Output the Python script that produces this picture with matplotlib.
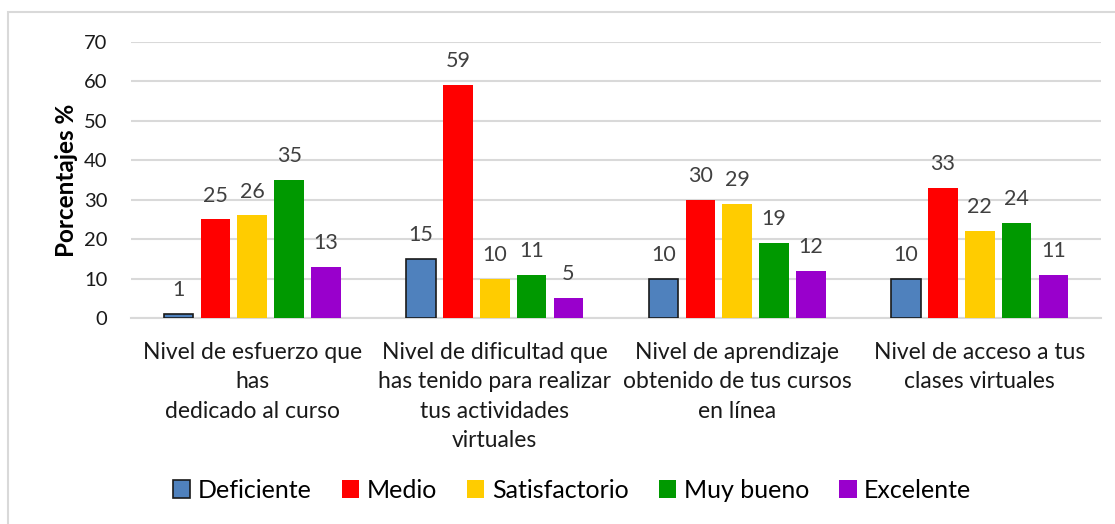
import matplotlib
matplotlib.use("Agg")
import matplotlib.pyplot as plt
from matplotlib.patches import Rectangle
import numpy as np

categories = [
    "Nivel de esfuerzo que\nhas\ndedicado al curso",
    "Nivel de dificultad que\nhas tenido para realizar\ntus actividades\nvirtuales",
    "Nivel de aprendizaje\nobtenido de tus cursos\nen línea",
    "Nivel de acceso a tus\nclases virtuales",
]
series_names = ["Deficiente", "Medio", "Satisfactorio", "Muy bueno", "Excelente"]
deficiente = [1, 15, 10, 10]
medio = [25, 59, 30, 33]
satisfactorio = [26, 10, 29, 22]
muy_bueno = [35, 11, 19, 24]
excelente = [13, 5, 12, 11]
yticks = [0, 10, 20, 30, 40, 50, 60, 70]

values = [deficiente, medio, satisfactorio, muy_bueno, excelente]
colors = ["#4F81BD", "#FF0000", "#FFCC00", "#009900", "#9900CC"]

plt.rcParams['font.family'] = ['Lato', 'DejaVu Sans']

fig = plt.figure(figsize=(11.15, 5.24), dpi=100)
fig.patches.append(Rectangle((8/1115, -0.01), 1.02, 1 - 12/524 + 0.01,
                             transform=fig.transFigure, fill=False,
                             edgecolor="#d9d9d9", linewidth=1.5))
ax = fig.add_axes([131/1115, 1 - 318/524, 970/1115, 276/524])

x = np.arange(len(categories))
pitch = 0.152
width = 0.122
for i, (name, vals, c) in enumerate(zip(series_names, values, colors)):
    offs = (i - 2) * pitch
    if i == 0:
        ax.bar(x + offs, vals, width, color=c, edgecolor="#1a1a1a",
               linewidth=1.2, label=name, zorder=3)
    else:
        ax.bar(x + offs, vals, width, color=c, edgecolor="none",
               label=name, zorder=3)
    for xi, v in zip(x + offs, vals):
        ax.annotate(str(v), (xi, v), xytext=(0, 10), textcoords="offset points",
                    ha="center", va="bottom", fontsize=15.5, color="#404040")

ax.set_xlim(-0.5, 3.5)
ax.set_ylim(0, 70)
ax.set_yticks(yticks)
ax.tick_params(axis="y", length=0, labelsize=14.5, pad=17, labelcolor="#1a1a1a")
ax.set_xticks(x)
ax.set_xticklabels(categories, fontsize=16.5, linespacing=1.5, color="#1a1a1a")
ax.tick_params(axis="x", length=0, pad=17)
ax.yaxis.grid(True, color="#d9d9d9", linewidth=1.5, zorder=0)
ax.set_axisbelow(True)
for s in ["top", "right", "left"]:
    ax.spines[s].set_visible(False)
ax.spines["bottom"].set_color("#d9d9d9")
ax.spines["bottom"].set_linewidth(1.5)
ax.set_ylabel("Porcentajes %", fontsize=17.5, fontweight="bold", labelpad=4)

fig.legend(loc="center", bbox_to_anchor=(572/1115, 1 - 490/524), ncol=5,
           frameon=False, fontsize=18, handlelength=0.7, handleheight=0.7,
           handletextpad=0.3, columnspacing=1.2)

fig.savefig("out.png", dpi=100)
